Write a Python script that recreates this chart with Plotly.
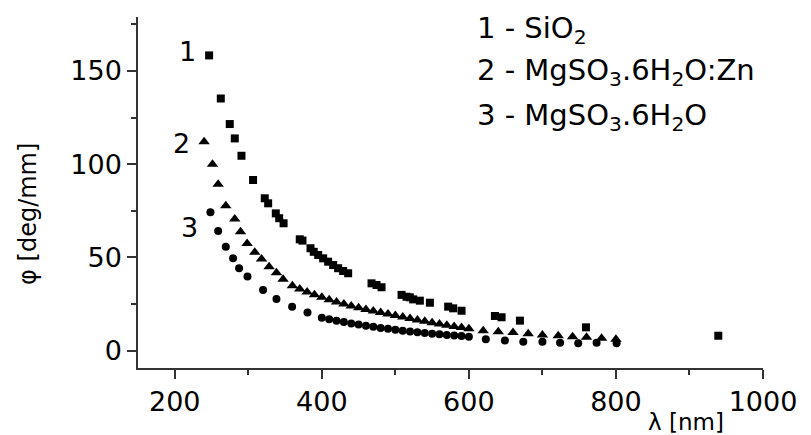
import plotly.graph_objects as go

# Series 1 - SiO2 (squares)
sio2_x = [246.7, 262.6, 274.8, 281.6, 290.7, 306.5, 322.4, 327.0, 337.4, 342.0, 348.0,
          370.0, 373.7, 384.6, 389.0, 395.0, 401.8, 408.6, 415.4, 422.2, 429.0, 435.8,
          467.6, 474.4, 481.2, 508.4, 515.2, 519.7, 524.2, 533.3, 547.0, 571.8, 578.6,
          590.0, 635.4, 644.5, 669.4, 759.2, 939.2]
sio2_y = [158.3, 135.2, 121.5, 113.8, 104.5, 91.5, 81.7, 79.0, 73.6, 71.0, 68.3,
          59.7, 59.0, 54.9, 53.0, 51.3, 49.5, 47.7, 45.9, 44.2, 42.7, 41.5,
          36.1, 35.2, 34.0, 29.9, 28.9, 28.6, 27.5, 26.8, 25.7, 23.6, 22.7,
          21.4, 18.6, 17.9, 16.1, 12.5, 8.0]

# Series 2 - MgSO3.6H2O:Zn (triangles)
zn_x = [239.9, 251.3, 259.0, 269.4, 281.6, 289.4, 298.4, 308.8, 318.0, 328.3, 338.3, 347.3,
        360, 370, 380, 390, 400, 410, 420, 430, 440, 450, 460, 470, 480, 490, 500,
        510, 520, 530, 540, 550, 560, 570, 580, 590, 600,
        619.5, 640, 660, 680.7, 700, 721.5, 741, 760, 780.5, 800]
zn_y = [112.0, 100.0, 89.2, 77.7, 70.6, 63.8, 57.5, 52.7, 49.1, 45.0, 41.8, 38.3,
        34.8, 33.0, 31.4, 30.0, 28.6, 27.3, 26.1, 25.0, 24.0, 23.0, 22.1, 21.2, 20.4, 19.6, 18.8,
        18.0, 17.2, 16.4, 15.7, 15.0, 14.3, 13.6, 13.0, 12.4, 11.8,
        10.7, 10.2, 9.7, 9.0, 8.4, 8.0, 7.5, 7.2, 6.6, 6.1]

# Series 3 - MgSO3.6H2O (circles)
mg_x = [248.5, 259.0, 269.4, 279.3, 287.5, 298.9, 320.1, 338.3, 359.6, 380.5,
        400, 410, 420, 430, 440, 450, 460, 470, 480, 490, 500,
        510, 520, 530, 540, 550, 560, 570, 580, 590, 600,
        623, 649, 674, 700, 724, 748.7, 773.7, 800.9]
mg_y = [74.2, 64.1, 55.7, 49.5, 44.2, 39.7, 32.5, 27.7, 23.6, 20.4,
        17.6, 16.8, 16.0, 15.3, 14.6, 14.0, 13.4, 12.8, 12.2, 11.7, 11.2,
        10.7, 10.3, 9.9, 9.5, 9.1, 8.8, 8.4, 8.1, 7.8, 7.5,
        6.1, 5.4, 4.8, 4.8, 4.3, 4.0, 4.3, 4.0]

curve_labels = ["1", "2", "3"]
curve_label_x = [231.3, 223.0, 234.0]
curve_label_y = [160.6, 111.0, 66.3]

legend_lines = ["1 - SiO<sub>2</sub>",
                "2 - MgSO<sub>3</sub>.6H<sub>2</sub>O:Zn",
                "3 - MgSO<sub>3</sub>.6H<sub>2</sub>O"]
legend_y = [0.963, 0.843, 0.715]

x_ticks = [200, 400, 600, 800, 1000]
y_ticks = [0, 50, 100, 150]

FONT = "DejaVu Sans"
fig = go.Figure()
fig.add_trace(go.Scatter(x=sio2_x, y=sio2_y, mode="markers",
                         marker=dict(symbol="square", size=8, color="black")))
fig.add_trace(go.Scatter(x=zn_x, y=zn_y, mode="markers",
                         marker=dict(symbol="triangle-up", size=10, color="black")))
fig.add_trace(go.Scatter(x=mg_x, y=mg_y, mode="markers",
                         marker=dict(symbol="circle", size=8, color="black")))

for t, x, y in zip(curve_labels, curve_label_x, curve_label_y):
    fig.add_annotation(x=x, y=y, text=t, showarrow=False, xanchor="right",
                       yanchor="middle",
                       font=dict(family=FONT, size=27, color="black"))

for t, y in zip(legend_lines, legend_y):
    fig.add_annotation(x=0.539, y=y, xref="paper", yref="paper",
                       text=t, showarrow=False, xanchor="left", yanchor="middle",
                       font=dict(family=FONT, size=29, color="black"))

fig.add_annotation(x=895, y=0, xref="x", yref="paper", text="λ [nm]",
                   showarrow=False, xanchor="center", yanchor="middle", yshift=-54,
                   font=dict(family=FONT, size=23, color="black"))

fig.add_annotation(x=-0.176, y=0.439, xref="paper", yref="paper", text="φ [deg/mm]",
                   showarrow=False, textangle=-90, xanchor="center", yanchor="middle",
                   font=dict(family=FONT, size=24, color="black"))

axis_common = dict(showline=True, linecolor="#333333", linewidth=1.5,
                   ticks="outside", ticklen=9, tickwidth=1.5, tickcolor="#333333",
                   showgrid=False, zeroline=False, automargin=False,
                   tickfont=dict(family=FONT, size=27, color="black"))

fig.update_xaxes(range=[150, 1000], tickvals=x_ticks,
                 minor=dict(ticks="outside", ticklen=5, tickwidth=1.5, tickcolor="#333333",
                            tickvals=[300, 500, 700, 900]),
                 **axis_common)
fig.update_yaxes(range=[-9.3, 178.9], tickvals=y_ticks,
                 minor=dict(ticks="outside", ticklen=5, tickwidth=1.5, tickcolor="#333333",
                            tickvals=[25, 75, 125, 175]),
                 **axis_common)

# the page adds an 8 px body margin, so the figure is sized/offset to compensate
fig.update_layout(width=803, height=427, showlegend=False,
                  plot_bgcolor="white", paper_bgcolor="white",
                  margin=dict(l=130, r=48, t=9, b=67))

fig.write_html("out.html")
